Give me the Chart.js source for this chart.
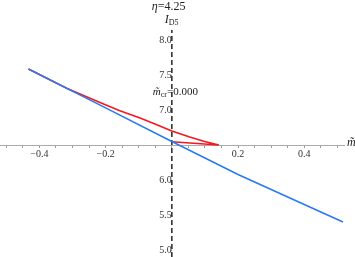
<!DOCTYPE html>
<html>
<head>
<meta charset="utf-8">
<script src="https://cdn.jsdelivr.net/npm/chart.js@4.4.0/dist/chart.umd.min.js"></script>
<style>
  html, body { margin: 0; padding: 0; background: #fff; }
  canvas { display: block; }
</style>
</head>
<body>
<canvas id="chart" width="355" height="257"></canvas>
<script>
/* I_D5 vs m~ at eta = 4.25 */

const SERIF = '"Liberation Serif", "DejaVu Serif", serif';

// blue branch
const BLUE_X = [-0.433, -0.2, 0, 0.2, 0.4, 0.517];
const BLUE_Y = [7.586, 7.03, 6.55, 6.08, 5.65, 5.40];

// red branch (goes out to the cusp and comes back to the axis)
const RED_X = [-0.433, -0.367, -0.316, -0.217, -0.157, -0.096, -0.051, 0, 0.054, 0.099, 0.142, 0];
const RED_Y = [7.586, 7.429, 7.307, 7.107, 6.989, 6.886, 6.80, 6.70, 6.614, 6.55, 6.50, 6.547];

const X_LABELS = [-0.4, -0.2, 0.2, 0.4];
const X_MINOR_STEP = 0.05;
const Y_TICKS = [5.0, 5.5, 6.0, 6.5, 7.0, 7.5, 8.0];
const Y_HIDDEN = 6.5; // origin value, not labelled

const X_RANGE = [-0.519, 0.52];
const Y_RANGE = [4.9, 8.143];
const AXIS_CROSS_Y = 6.5;

function fmt(v, d) {
  return v.toFixed(d).replace("-", "\u2212");
}

function toPoints(xs, ys) {
  return xs.map((x, i) => ({ x: x, y: ys[i] }));
}

// draws a row of text runs with their own fonts / baseline shifts
function drawRuns(ctx, x, y, runs) {
  runs.forEach(([font, text, dy]) => {
    ctx.font = font;
    ctx.fillText(text, x, y + (dy || 0));
    x += ctx.measureText(text).width;
  });
}

const textPlugin = {
  id: "textPlugin",
  afterDraw(chart) {
    const { ctx, scales: { x, y } } = chart;
    const x0 = x.getPixelForValue(0);
    const yAxis = y.getPixelForValue(AXIS_CROSS_Y);
    ctx.save();
    ctx.fillStyle = "#222";
    ctx.textBaseline = "alphabetic";

    drawRuns(ctx, x0 - 20, 10, [
      ["italic 12px " + SERIF, "\u03B7"],
      ["12px " + SERIF, "=4.25"],
    ]);
    drawRuns(ctx, x0 - 7, 23, [
      ["italic 12px " + SERIF, "I"],
      ["8px " + SERIF, "D5", 2],
    ]);
    drawRuns(ctx, x.right + 3, yAxis + 1, [
      ["italic 12px " + SERIF, "m\u0303"],
    ]);
    drawRuns(ctx, x0 - 19, y.getPixelForValue(7.22), [
      ["italic 11px " + SERIF, "m\u0303"],
      ["8px " + SERIF, "cr", 2],
      ["11px " + SERIF, "=0.000"],
    ]);
    ctx.restore();
  },
};

new Chart(document.getElementById("chart"), {
  type: "scatter",
  data: {
    datasets: [
      {
        label: "axis",
        data: [{ x: 0, y: Y_RANGE[0] }, { x: 0, y: Y_RANGE[1] }],
        showLine: true,
        borderColor: "#333",
        borderWidth: 1.6,
        borderDash: [5, 3],
        pointRadius: 0,
        order: 3,
      },
      {
        label: "red",
        data: toPoints(RED_X, RED_Y),
        showLine: true,
        borderColor: "#f5171d",
        borderWidth: 1.6,
        pointRadius: 0,
        tension: 0,
        order: 2,
      },
      {
        label: "blue",
        data: toPoints(BLUE_X, BLUE_Y),
        showLine: true,
        borderColor: "#2a7af2",
        borderWidth: 1.6,
        pointRadius: 0,
        tension: 0,
        order: 1,
      },
    ],
  },
  options: {
    responsive: false,
    animation: false,
    layout: { padding: { top: 30, right: 11, bottom: 0, left: 0 } },
    plugins: { legend: { display: false }, tooltip: { enabled: false } },
    scales: {
      x: {
        type: "linear",
        min: X_RANGE[0],
        max: X_RANGE[1],
        position: { y: AXIS_CROSS_Y },
        afterBuildTicks: (scale) => {
          const ticks = [];
          for (let v = -0.5; v <= 0.5001; v += X_MINOR_STEP) ticks.push({ value: +v.toFixed(2) });
          scale.ticks = ticks;
        },
        afterFit: (scale) => {
          scale.paddingLeft = 0;
          scale.paddingRight = 0;
        },
        ticks: {
          autoSkip: false,
          maxRotation: 0,
          padding: 1,
          color: "#333",
          font: { family: SERIF, size: 10 },
          callback: (v) => (X_LABELS.some((t) => Math.abs(t - v) < 1e-6) ? fmt(v, 1) : ""),
        },
        grid: { display: true, drawOnChartArea: false, drawTicks: true, tickLength: 2, tickColor: "#999" },
        border: { display: true, color: "#aaa", width: 1 },
      },
      y: {
        type: "linear",
        min: Y_RANGE[0],
        max: Y_RANGE[1],
        position: { x: 0 },
        afterBuildTicks: (scale) => {
          scale.ticks = Y_TICKS.map((v) => ({ value: v }));
        },
        afterFit: (scale) => {
          scale.paddingTop = 0;
          scale.paddingBottom = 0;
        },
        ticks: {
          autoSkip: false,
          padding: 1,
          color: "#333",
          font: { family: SERIF, size: 10 },
          callback: (v) => (Math.abs(v - Y_HIDDEN) < 1e-6 ? "" : fmt(v, 1)),
        },
        grid: { display: true, drawOnChartArea: false, drawTicks: true, tickLength: 2, tickColor: "#999" },
        border: { display: false },
      },
    },
  },
  plugins: [textPlugin],
});
</script>
</body>
</html>
